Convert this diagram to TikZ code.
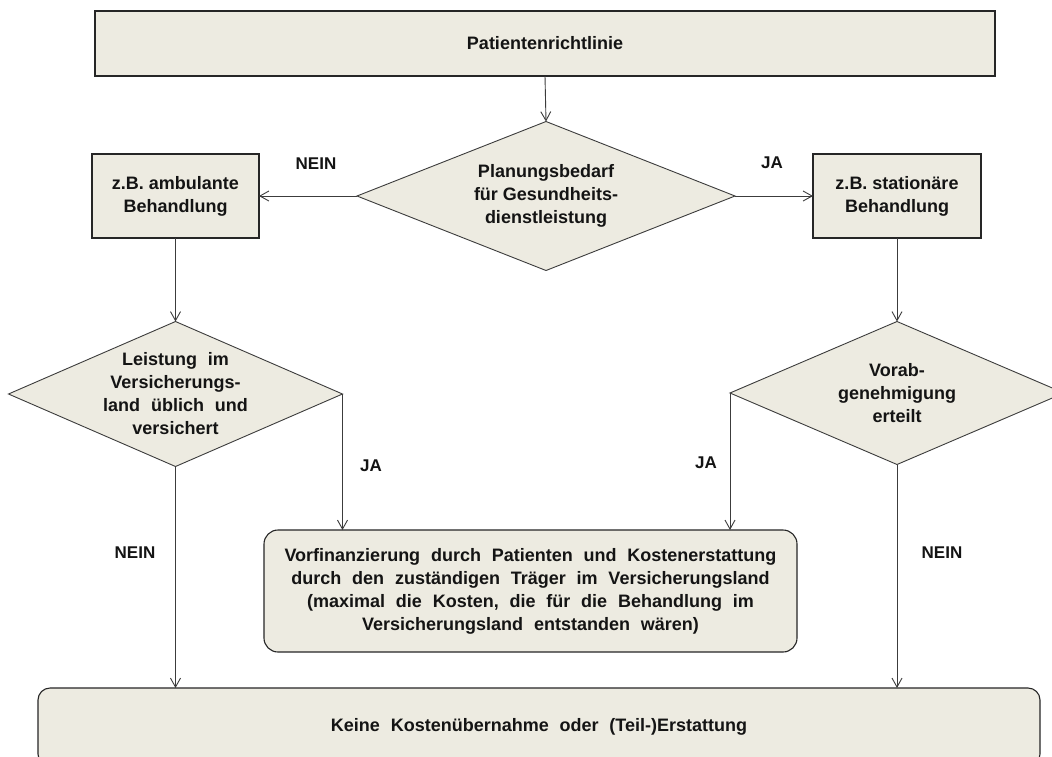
\documentclass[tikz,border=0pt]{standalone}
\usepackage{fontspec}
\usetikzlibrary{shapes.geometric,arrows.meta}
\newfontfamily\arialfont{Liberation Sans}
\definecolor{boxfill}{RGB}{237,235,225}
\definecolor{linecol}{RGB}{60,60,60}
\definecolor{txtcol}{RGB}{20,20,20}
\newcommand{\widespacing}{\spaceskip=0.6em\relax}
\begin{document}
\begin{tikzpicture}[x=1pt,y=-1pt,
  txt/.style={font=\arialfont\bfseries\fontsize{18}{23}\selectfont, text=txtcol, align=center},
  wide/.style={execute at begin node=\widespacing},
  box/.style={rectangle, draw=black!85, line width=1.1pt, fill=boxfill, txt, inner sep=0pt, outer sep=0pt},
  rbox/.style={box, rounded corners=14pt},
  dia/.style={diamond, draw=linecol, line width=0.9pt, fill=boxfill, txt, inner sep=-15pt, outer sep=0pt},
  lbl/.style={font=\arialfont\bfseries\fontsize{17}{20}\selectfont, text=txtcol, inner sep=0pt},
  conn/.style={draw=linecol, line width=0.9pt, -{Straight Barb[length=9pt,width=10pt]}}]
\useasboundingbox[fill=white] (0,0) rectangle (1052,756);
\clip (0,0) rectangle (1052,756);

\node[box, minimum width=900pt, minimum height=65pt] (top) at (545,43.5) {Patientenrichtlinie};
\node[dia, shape aspect=2.52, minimum width=378pt, minimum height=149pt] (d1) at (546,196) {Planungsbedarf\\für Gesundheits-\\dienstleistung};
\node[box, minimum width=167pt, minimum height=84pt] (lb) at (175.5,196) {z.B. ambulante\\Behandlung};
\node[box, minimum width=168pt, minimum height=84pt] (rb) at (897,196) {z.B. stationäre\\Behandlung};
\node[dia, wide, shape aspect=2.3, minimum width=334pt, minimum height=145pt] (d2) at (175.5,394) {Leistung im\\Versicherungs-\\land üblich und\\versichert};
\node[dia, shape aspect=2.34, minimum width=334pt, minimum height=143pt] (d3) at (897,393) {Vorab-\\genehmigung\\erteilt};
\node[rbox, wide, minimum width=533pt, minimum height=122pt] (mid) at (530.5,591) {Vorfinanzierung durch Patienten und Kostenerstattung\\durch den zuständigen Träger im Versicherungsland\\(maximal die Kosten, die für die Behandlung im\\Versicherungsland entstanden wären)};
\node[rbox, wide, rounded corners=12pt, minimum width=1002pt, minimum height=78pt] (bot) at (539,727) {Keine Kostenübernahme oder (Teil-)Erstattung};

\node[lbl] (n1) at (316,164) {NEIN};
\node[lbl] (j1) at (772,163) {JA};
\node[lbl] (j2) at (371,466) {JA};
\node[lbl] (j3) at (706,463) {JA};
\node[lbl] (n2) at (135,553) {NEIN};
\node[lbl] (n3) at (942,553) {NEIN};

\draw[conn] (top.south) -- (d1.north);
\draw[conn] (d1.west) -- (lb.east);
\draw[conn] (d1.east) -- (rb.west);
\draw[conn] (lb.south) -- (d2.north);
\draw[conn] (rb.south) -- (d3.north);
\draw[conn] (d2.east) -- (d2.east |- mid.north);
\draw[conn] (d3.west) -- (d3.west |- mid.north);
\draw[conn] (d2.south) -- (d2.south |- bot.north);
\draw[conn] (d3.south) -- (d3.south |- bot.north);
\end{tikzpicture}
\end{document}
